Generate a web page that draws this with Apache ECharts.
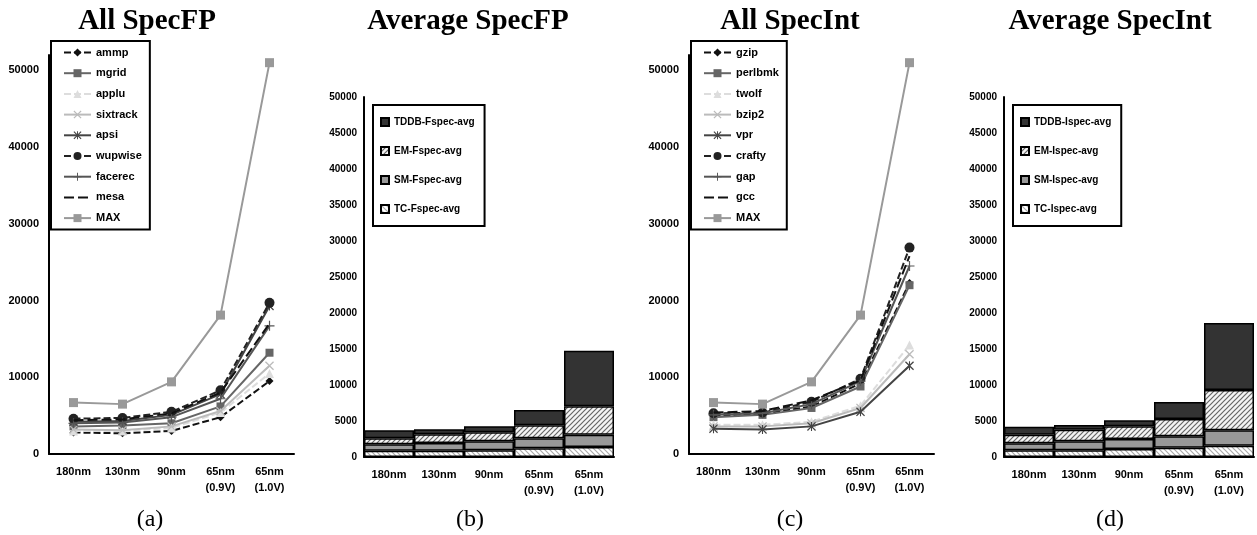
<!DOCTYPE html>
<html>
<head>
<meta charset="utf-8">
<script src="https://cdn.jsdelivr.net/npm/echarts@6/dist/echarts.min.js"></script>
<style>
  html, body { margin: 0; padding: 0; background: #fff; }
  #main { width: 1257px; height: 535px; }
</style>
</head>
<body>
<div id="main"></div>
<script>
// x categories shared by every panel
const categories = ['180nm', '130nm', '90nm', '65nm\n(0.9V)', '65nm\n(1.0V)'];

// (a) All SpecFP
const fpNames = ['ammp', 'mgrid', 'applu', 'sixtrack', 'apsi', 'wupwise', 'facerec', 'mesa', 'MAX'];
const ammp     = [2800, 2700, 3000, 4800, 9500];
const mgrid    = [3600, 3700, 4000, 6200, 13200];
const applu    = [3000, 3000, 3400, 5400, 10500];
const sixtrack = [3200, 3100, 3600, 5600, 11500];
const apsi     = [4200, 4300, 5100, 7800, 19300];
const wupwise  = [4600, 4700, 5500, 8300, 19700];
const facerec  = [4000, 4100, 4800, 7200, 16700];
const mesa     = [4400, 4500, 5300, 8000, 17000];
const fpMax    = [6700, 6500, 9400, 18100, 51000];

// (c) All SpecInt
const intNames = ['gzip', 'perlbmk', 'twolf', 'bzip2', 'vpr', 'crafty', 'gap', 'gcc', 'MAX'];
const gzip     = [5000, 5200, 6200, 9200, 22300];
const perlbmk  = [4800, 5100, 6000, 8800, 22000];
const twolf    = [3800, 3800, 4200, 6300, 14200];
const bzip2    = [3600, 3600, 4000, 6000, 13000];
const vpr      = [3300, 3200, 3600, 5500, 11500];
const crafty   = [5300, 5400, 6800, 9800, 26900];
const gap      = [5100, 5300, 6500, 9500, 24500];
const gcc      = [5400, 5600, 7000, 9600, 25800];
const intMax   = [6700, 6500, 9400, 18100, 51000];

// (b) Average SpecFP, stacked pieces
const fpAvgNames = ['TDDB-Fspec-avg', 'EM-Fspec-avg', 'SM-Fspec-avg', 'TC-Fspec-avg'];
const tcF   = [880, 880, 930, 1200, 1390];
const smF   = [880, 1070, 1250, 1390, 1710];
const emF   = [830, 1200, 1250, 1810, 3940];
const tddbF = [1110, 690, 830, 2130, 7730];

// (d) Average SpecInt, stacked pieces
const intAvgNames = ['TDDB-Ispec-avg', 'EM-Ispec-avg', 'SM-Ispec-avg', 'TC-Ispec-avg'];
const tcI   = [930, 930, 1110, 1300, 1570];
const smI   = [970, 1250, 1390, 1570, 2130];
const emI   = [1200, 1620, 1760, 2410, 5600];
const tddbI = [1110, 640, 830, 2360, 9310];

const SANS = 'Liberation Sans, Arial, sans-serif';
const SERIF = 'Liberation Serif, Times New Roman, serif';

const SYM_X = 'path://M0,1L1,0L5,4L9,0L10,1L6,5L10,9L9,10L5,6L1,10L0,9L4,5Z';
const SYM_STAR = 'path://M0,1L1,0L5,4L9,0L10,1L6,5L10,9L9,10L5,6L1,10L0,9L4,5Z M4.4,0L5.6,0L5.6,10L4.4,10Z';
const SYM_PLUS = 'path://M4.4,0H5.6V4.4H10V5.6H5.6V10H4.4V5.6H0V4.4H4.4Z';

// one look per line position (same in both line panels)
const looks = [
  { color: '#111', type: [7, 3], symbol: 'diamond', size: 8 },
  { color: '#666', type: 'solid', symbol: 'rect', size: 8 },
  { color: '#ddd', type: [7, 3], symbol: 'triangle', size: 9 },
  { color: '#bbb', type: 'solid', symbol: SYM_X, size: 9 },
  { color: '#444', type: 'solid', symbol: SYM_STAR, size: 9 },
  { color: '#222', type: [7, 3], symbol: 'circle', size: 10 },
  { color: '#555', type: 'solid', symbol: SYM_PLUS, size: 10 },
  { color: '#111', type: [10, 4], symbol: 'none', size: 0 },
  { color: '#999', type: 'solid', symbol: 'rect', size: 9 }
];

// small diagonal hatch tile used as a pattern fill
function hatch(bg, fg, forward) {
  const s = 5;
  const c = document.createElement('canvas');
  c.width = s; c.height = s;
  const ctx = c.getContext('2d');
  ctx.fillStyle = bg;
  ctx.fillRect(0, 0, s, s);
  ctx.strokeStyle = fg;
  ctx.lineWidth = 1.2;
  ctx.beginPath();
  if (forward) {
    ctx.moveTo(0, s); ctx.lineTo(s, 0);
    ctx.moveTo(-1, 1); ctx.lineTo(1, -1);
    ctx.moveTo(s - 1, s + 1); ctx.lineTo(s + 1, s - 1);
  } else {
    ctx.moveTo(0, 0); ctx.lineTo(s, s);
    ctx.moveTo(-1, s - 1); ctx.lineTo(1, s + 1);
    ctx.moveTo(s - 1, -1); ctx.lineTo(s + 1, 1);
  }
  ctx.stroke();
  return { image: c, repeat: 'repeat' };
}

function lineSeries(names, values, axis) {
  return names.map((n, i) => ({
    name: n,
    type: 'line',
    xAxisIndex: axis,
    yAxisIndex: axis,
    data: values[i],
    symbol: looks[i].symbol,
    symbolSize: looks[i].size,
    showAllSymbol: true,
    lineStyle: { color: looks[i].color, width: 2, type: looks[i].type },
    itemStyle: { color: looks[i].color },
    z: 2 + i
  }));
}

const barFills = ['#333', hatch('#f4f4f4', '#666', true), '#999', hatch('#fff', '#aaa', false)];

function barSeries(names, values, axis, stack) {
  // stacked bottom to top: TC, SM, EM, TDDB
  const order = [3, 2, 1, 0];
  return order.map(i => ({
    name: names[i],
    type: 'bar',
    stack: stack,
    xAxisIndex: axis,
    yAxisIndex: axis,
    data: values[i],
    barCategoryGap: '0%',
    itemStyle: { color: barFills[i], borderColor: '#000', borderWidth: 1.5 }
  }));
}

function xAxis(grid) {
  return {
    type: 'category',
    gridIndex: grid,
    data: categories,
    axisLine: { lineStyle: { color: '#000', width: 2 } },
    axisTick: { show: false },
    axisLabel: { color: '#000', fontWeight: 'bold', fontSize: 11, fontFamily: SANS, margin: 10, lineHeight: 16, interval: 0 }
  };
}

function yAxis(grid, max, interval, size, margin) {
  return {
    type: 'value',
    gridIndex: grid,
    min: 0,
    max: max,
    interval: interval,
    splitLine: { show: false },
    axisTick: { show: false },
    axisLine: { show: true, lineStyle: { color: '#000', width: 2 } },
    axisLabel: {
      color: '#000', fontWeight: 'bold', fontSize: size, fontFamily: SANS, margin: margin,
      formatter: v => (v % interval === 0 ? String(v) : '')
    }
  };
}

function legend(names, left, opts) {
  return Object.assign({
    orient: 'vertical',
    left: left,
    data: names.map(n => (n === 'mesa' || n === 'gcc') ? { name: n, itemStyle: { opacity: 0 } } : n),
    borderColor: '#000',
    borderWidth: 2,
    backgroundColor: '#fff',
    selectedMode: false
  }, opts);
}

function label(text, x, y, font) {
  return {
    type: 'text', x: x, y: y,
    style: { text: text, font: font, fill: '#000', textAlign: 'center', textVerticalAlign: 'middle' }
  };
}

const chart = echarts.init(document.getElementById('main'), null, { renderer: 'canvas' });

const lineLegendOpts = {
  top: 41, padding: [6, 8, 6, 12], itemWidth: 27, itemHeight: 10, itemGap: 9.7,
  textStyle: { color: '#000', fontWeight: 'bold', fontSize: 11, fontFamily: SANS }
};
const barLegendOpts = {
  top: 105, padding: [12, 10, 12, 7], itemWidth: 8, itemHeight: 8, itemGap: 19, icon: 'rect',
  textStyle: { color: '#000', fontWeight: 'bold', fontSize: 10, fontFamily: SANS }
};

chart.setOption({
  backgroundColor: '#fff',
  animation: false,
  grid: [
    { left: 49, top: 55, width: 245, height: 399 },
    { left: 364, top: 97, width: 250, height: 360 },
    { left: 689, top: 55, width: 245, height: 399 },
    { left: 1004, top: 97, width: 250, height: 360 }
  ],
  xAxis: [xAxis(0), xAxis(1), xAxis(2), xAxis(3)],
  yAxis: [
    yAxis(0, 52000, 10000, 11, 10),
    yAxis(1, 50000, 5000, 10, 7),
    yAxis(2, 52000, 10000, 11, 10),
    yAxis(3, 50000, 5000, 10, 7)
  ],
  legend: [
    legend(fpNames, 51, lineLegendOpts),
    legend(fpAvgNames, 373, barLegendOpts),
    legend(intNames, 691, lineLegendOpts),
    legend(intAvgNames, 1013, barLegendOpts)
  ],
  graphic: [
    label('All SpecFP', 147, 22, 'bold 29px ' + SERIF),
    label('Average SpecFP', 468, 22, 'bold 29px ' + SERIF),
    label('All SpecInt', 790, 22, 'bold 29px ' + SERIF),
    label('Average SpecInt', 1110, 22, 'bold 29px ' + SERIF),
    label('(a)', 150, 520, '24px ' + SERIF),
    label('(b)', 470, 520, '24px ' + SERIF),
    label('(c)', 790, 520, '24px ' + SERIF),
    label('(d)', 1110, 520, '24px ' + SERIF)
  ],
  series: [].concat(
    lineSeries(fpNames, [ammp, mgrid, applu, sixtrack, apsi, wupwise, facerec, mesa, fpMax], 0),
    barSeries(fpAvgNames, [tddbF, emF, smF, tcF], 1, 'fp'),
    lineSeries(intNames, [gzip, perlbmk, twolf, bzip2, vpr, crafty, gap, gcc, intMax], 2),
    barSeries(intAvgNames, [tddbI, emI, smI, tcI], 3, 'int')
  )
});
</script>
</body>
</html>
